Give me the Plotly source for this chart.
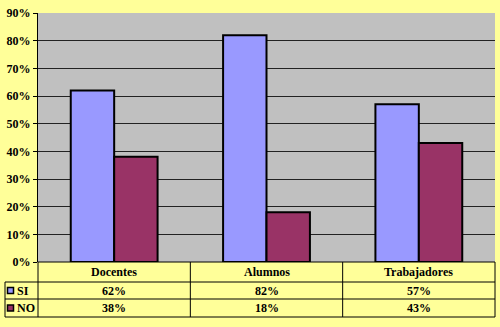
import plotly.graph_objects as go

categories = ["Docentes", "Alumnos", "Trabajadores"]
series_names = ["SI", "NO"]
si_values = [62, 82, 57]
no_values = [38, 18, 43]
y_ticks = [0, 10, 20, 30, 40, 50, 60, 70, 80, 90]

colors = {"SI": "#9999FF", "NO": "#993366"}
FONT = "Times New Roman, Liberation Serif, DejaVu Serif, serif"

W, H = 500, 327
L, R, T, B = 38, 5, 13, 65
PW, PH = W - L - R, H - T - B

def px_x(px):
    return (px - L) / PW

def px_y(py):
    return (H - B - py) / PH

fig = go.Figure()
for name, vals in [("SI", si_values), ("NO", no_values)]:
    fig.add_trace(go.Bar(
        x=categories, y=vals, name=name,
        marker=dict(color=colors[name], line=dict(color="black", width=2)),
        showlegend=False, hoverinfo="skip",
    ))

shapes = []
annotations = []
line = dict(color="black", width=1)
row_y = [262, 282, 299, 317]
table_left = 5
ncat = len(categories)
col_x = [L + i * PW / ncat for i in range(ncat + 1)]

shapes.append(dict(type="line", xref="paper", yref="paper", x0=px_x(L), x1=px_x(W - R), y0=px_y(row_y[0]), y1=px_y(row_y[0]), line=line))
for ry in row_y[1:]:
    shapes.append(dict(type="line", xref="paper", yref="paper", x0=px_x(table_left), x1=px_x(W - R), y0=px_y(ry), y1=px_y(ry), line=line))
for cx in col_x:
    shapes.append(dict(type="line", xref="paper", yref="paper", x0=px_x(cx), x1=px_x(cx), y0=px_y(row_y[0]), y1=px_y(row_y[3]), line=line))
shapes.append(dict(type="line", xref="paper", yref="paper", x0=px_x(table_left), x1=px_x(table_left), y0=px_y(row_y[1]), y1=px_y(row_y[3]), line=line))

tfont = dict(family=FONT, size=12, color="black")
for i, cat in enumerate(categories):
    cx = (col_x[i] + col_x[i + 1]) / 2
    annotations.append(dict(xref="paper", yref="paper", x=px_x(cx), y=px_y((row_y[0] + row_y[1]) / 2),
                            xanchor="center", yanchor="middle",
                            text=f"<b>{cat}</b>", showarrow=False, font=tfont))
    for r, vals in enumerate([si_values, no_values]):
        annotations.append(dict(xref="paper", yref="paper", x=px_x(cx), y=px_y((row_y[r + 1] + row_y[r + 2]) / 2),
                                xanchor="center", yanchor="middle",
                                text=f"<b>{vals[i]}%</b>", showarrow=False, font=tfont))

for r, name in enumerate(series_names):
    cy = (row_y[r + 1] + row_y[r + 2]) / 2
    shapes.append(dict(type="rect", xref="paper", yref="paper",
                       x0=px_x(7.5), x1=px_x(13.5), y0=px_y(cy - 3), y1=px_y(cy + 3),
                       fillcolor=colors[name], line=dict(color="black", width=1.5)))
    annotations.append(dict(xref="paper", yref="paper", x=px_x(15), y=px_y(cy),
                            xanchor="left", yanchor="middle",
                            text=f"<b>{name}</b>", showarrow=False, font=tfont))

fig.update_layout(
    width=W, height=H,
    margin=dict(l=L, r=R, t=T, b=B, pad=0, autoexpand=False),
    paper_bgcolor="#FFFF99",
    plot_bgcolor="#C0C0C0",
    barmode="group",
    bargap=0.43,
    bargroupgap=0,
    font=dict(family=FONT, size=12, color="black"),
    xaxis=dict(showticklabels=False, ticks="", showgrid=False, zeroline=False,
               showline=False, automargin=False),
    yaxis=dict(range=[0, 90], tickvals=y_ticks, ticktext=[f"<b>{v}%</b>" for v in y_ticks],
               showgrid=True, gridcolor="#222222", gridwidth=1,
               showline=True, linecolor="black", linewidth=1,
               ticks="outside", ticklen=4, tickcolor="black", automargin=False,
               zeroline=False, tickfont=dict(family=FONT, size=12, color="black")),
    shapes=shapes,
    annotations=annotations,
)

fig.write_html("out.html", config={"displayModeBar": False},
               post_script="document.body.style.margin='0';document.body.style.padding='0';document.body.style.overflow='hidden';")
